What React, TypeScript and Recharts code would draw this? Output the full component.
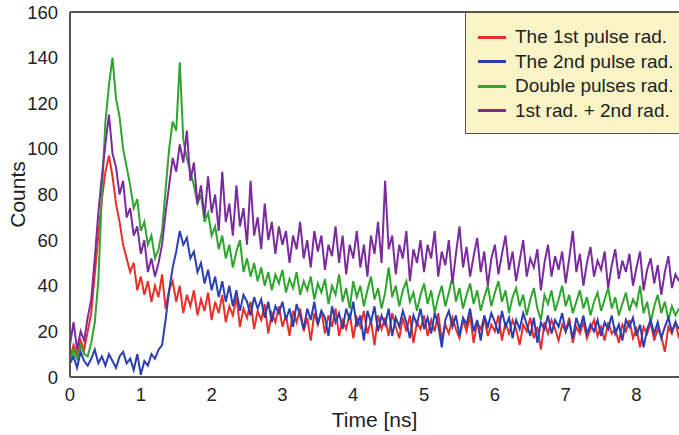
import React from "react";
import { LineChart, Line, XAxis, YAxis, ReferenceLine, Label } from "recharts";

const xTicks = [0, 1, 2, 3, 4, 5, 6, 7, 8];
const yTicks = [0, 20, 40, 60, 80, 100, 120, 140, 160];
const timeStep = 0.05;

const seriesNames = ["The 1st pulse rad.", "The 2nd pulse rad.", "Double pulses rad.", "1st rad. + 2nd rad."];

const firstPulse = [
  8, 14, 10, 16, 12, 20, 28, 45, 62, 78,
  90, 97, 88, 76, 68, 58, 52, 46, 50, 38,
  44, 36, 42, 33, 40, 35, 45, 30, 38, 42,
  33, 40, 28, 36, 31, 38, 27, 34, 29, 37,
  25, 33, 28, 36, 24, 31, 27, 35, 22, 30,
  26, 33, 21, 29, 25, 32, 19, 28, 24, 31,
  22, 27, 18, 29, 24, 30, 20, 26, 16, 28,
  23, 29, 19, 27, 22, 30, 18, 25, 21, 28,
  17, 26, 22, 29, 19, 25, 14, 27, 21, 26,
  18, 28, 22, 17, 26, 20, 27, 15, 24, 21,
  27, 18, 25, 20, 28, 16, 23, 19, 26, 21,
  17, 25, 20, 27, 15, 24, 21, 26, 18, 23,
  20, 27, 16, 24, 19, 25, 21, 14, 23, 20,
  26, 17, 22, 12, 24, 19, 25, 21, 16, 23,
  20, 26, 15, 22, 19, 24, 17, 21, 25, 18,
  22, 16, 24, 19, 21, 15, 23, 20, 25, 17,
  21, 13, 22, 19, 24, 16, 21, 18, 11, 22,
  19, 24, 17,
];

const secondPulse = [
  6, 9, 4, 11, 7, 5, 8, 12, 6, 9,
  5, 10, 7, 4, 9, 11, 6, 8, 3, 10,
  1, 7, 5, 10, 8, 12, 14, 25, 38, 48,
  55, 64, 58, 61, 52, 55, 46, 50, 41, 47,
  38, 44, 35, 42, 33, 40, 31, 38, 29, 36,
  33, 27, 35, 30, 34, 26, 33, 24, 31, 28,
  33, 25, 30, 22, 32, 27, 21, 30, 25, 33,
  23, 29, 26, 18, 31, 24, 28, 21, 30, 25,
  33, 22, 27, 16, 29, 24, 31, 20, 27, 23,
  30, 18, 26, 22, 29, 24, 17, 27, 23, 30,
  21, 26, 19, 28, 23, 13, 25, 29, 22, 27,
  18, 26, 23, 30, 20, 25, 16, 27, 22, 28,
  24, 19, 29, 22, 26, 17, 25, 21, 28, 23,
  18, 26, 15, 24, 21, 27, 19, 25, 22, 28,
  20, 24, 17, 26, 21, 27, 19, 23, 20, 25,
  18, 24, 21, 27, 19, 23, 16, 25, 22, 26,
  18, 23, 13, 21, 25, 19, 24, 17, 22, 26,
  20, 24, 21,
];

const doublePulses = [
  6, 12, 8, 14, 10, 9, 15, 24, 42, 80,
  112, 128, 140, 122, 114, 100, 92, 84, 74, 78,
  64, 68, 58, 62, 52, 56, 64, 82, 100, 112,
  108, 138, 104, 96, 90, 84, 76, 80, 68, 72,
  62, 66, 56, 62, 52, 58, 48, 55, 60, 46,
  52, 44, 50, 42, 48, 40, 46, 38, 45, 41,
  47, 37, 43, 39, 46, 36, 42, 38, 44, 34,
  41, 37, 43, 32, 40, 36, 45, 33, 39, 30,
  42, 35, 40, 31, 38, 44, 34, 39, 30, 37,
  48, 35, 40, 31, 38, 42, 33, 37, 29, 36,
  41, 32, 38, 28, 35, 40, 31, 37, 44, 33,
  39, 30, 36, 41, 32, 38, 29, 35, 40, 31,
  37, 42, 33, 38, 28, 35, 39, 31, 36, 27,
  34, 39, 30, 25, 36, 32, 38, 29, 34, 40,
  31, 36, 28, 33, 38, 30, 35, 27, 33, 37,
  29, 34, 39, 30, 35, 27, 32, 37, 29, 34,
  31, 40, 28, 33, 24, 31, 36, 28, 33, 25,
  31, 27, 30,
];

const sumPulses = [
  14, 24, 12, 20, 16, 26, 34, 52, 72, 88,
  102, 115, 98, 92, 80, 86, 70, 74, 62, 66,
  54, 60, 46, 52, 44, 50, 58, 72, 84, 96,
  90, 102, 94, 108, 86, 94, 76, 84, 70, 88,
  72, 80, 64, 90, 68, 76, 62, 84, 66, 74,
  58, 86, 62, 70, 56, 76, 60, 68, 54, 66,
  58, 64, 50, 62, 56, 68, 52, 60, 48, 64,
  55, 62, 47, 58, 53, 66, 50, 62, 45, 58,
  52, 64, 48, 58, 44, 62, 54, 68, 50, 86,
  56, 62, 45, 58, 52, 64, 42, 56, 50, 60,
  46, 58, 52, 64, 44, 55, 49, 60, 41, 54,
  66, 48, 57, 44, 53, 61, 46, 55, 40, 52,
  58, 45, 54, 62, 47, 55, 42, 51, 60, 44,
  52, 48, 56, 38, 50, 58, 44, 53, 47, 55,
  41, 52, 64, 46, 54, 40, 50, 57, 44, 51,
  47, 55, 39, 49, 56, 43, 51, 46, 54, 40,
  48, 55, 38, 47, 52, 41, 49, 36, 46, 53,
  39, 45, 42,
];

const colors = ["#e8302a", "#2b3fb0", "#2fa52f", "#7a2c9f"];

const data = firstPulse.map((v, i) => ({
  t: Math.round(i * timeStep * 100) / 100,
  red: v,
  blue: secondPulse[i],
  green: doublePulses[i],
  purple: sumPulses[i],
}));

const FONT = "'Liberation Sans', Arial, Helvetica, sans-serif";

const legendItems = [
  { name: seriesNames[0], color: colors[0] },
  { name: seriesNames[1], color: colors[1] },
  { name: seriesNames[2], color: colors[2] },
  { name: seriesNames[3], color: colors[3] },
];

const LegendBox = () => (
  <div
    style={{
      position: "absolute",
      left: 465,
      top: 12,
      width: 230,
      height: 122,
      background: "#f9f4c6",
      border: "1.5px solid #555",
      boxSizing: "border-box",
      paddingTop: 12,
      fontFamily: FONT,
      fontSize: 19,
      color: "#222",
    }}
  >
    {legendItems.map((it) => (
      <div key={it.name} style={{ display: "flex", alignItems: "center", height: 24.5, whiteSpace: "nowrap" }}>
        <div style={{ width: 28, height: 3, background: it.color, marginLeft: 12, marginRight: 9 }} />
        <span>{it.name}</span>
      </div>
    ))}
  </div>
);

export default function App() {
  return (
    <div style={{ position: "absolute", left: 0, top: 0, width: 679, height: 435, overflow: "hidden", background: "#fff" }}>
      <LineChart
        width={679}
        height={435}
        data={data}
        margin={{ top: 12, right: 0, left: 0, bottom: 0 }}
        style={{ fontFamily: FONT }}
      >
        <XAxis
          dataKey="t"
          type="number"
          domain={[0, 8.6]}
          ticks={xTicks}
          tickLine={false}
          axisLine={{ stroke: "#555", strokeWidth: 2 }}
          tick={{ fill: "#222", fontSize: 18.5 }}
          tickMargin={5}
          height={58}
          allowDataOverflow
        >
          <Label value="Time [ns]" position="insideBottom" offset={8} style={{ fill: "#222", fontSize: 21 }} />
        </XAxis>
        <YAxis
          type="number"
          domain={[0, 160]}
          ticks={yTicks}
          tickLine={false}
          axisLine={{ stroke: "#555", strokeWidth: 2 }}
          tick={{ fill: "#222", fontSize: 18.5 }}
          tickMargin={6}
          width={70}
          interval={0}
        >
          <Label value="Counts" angle={-90} position="insideLeft" offset={18} style={{ fill: "#222", fontSize: 21, textAnchor: "middle" }} />
        </YAxis>
        <ReferenceLine y={160} stroke="#555" strokeWidth={2} />
        <Line dataKey="red" stroke={colors[0]} strokeWidth={2} dot={false} isAnimationActive={false} type="linear" />
        <Line dataKey="green" stroke={colors[2]} strokeWidth={2} dot={false} isAnimationActive={false} type="linear" />
        <Line dataKey="purple" stroke={colors[3]} strokeWidth={2} dot={false} isAnimationActive={false} type="linear" />
        <Line dataKey="blue" stroke={colors[1]} strokeWidth={2} dot={false} isAnimationActive={false} type="linear" />
      </LineChart>
      <LegendBox />
    </div>
  );
}
